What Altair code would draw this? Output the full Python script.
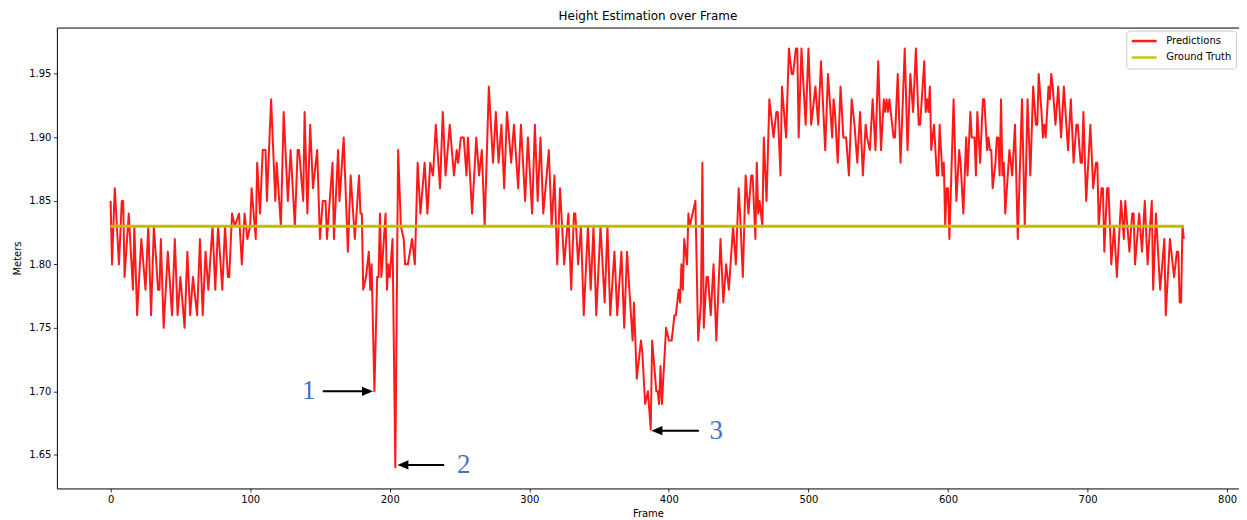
import altair as alt
import pandas as pd

# ---- data ----
pred_frames = [
    0, 1, 3, 6, 8, 9, 10, 13, 16, 17, 19, 22, 25, 27, 29, 31, 34, 35, 36, 38,
    41, 44, 46, 48, 50, 53, 55, 57, 59, 62, 64, 66, 68, 70, 73, 75, 77, 80, 82, 84,
    85, 87, 89, 92, 94, 96, 98, 100, 101, 104, 105, 107, 109, 111, 112, 115, 118, 119, 122, 124,
    127, 129, 132, 134, 135, 138, 139, 141, 143, 145, 148, 150, 152, 154, 155, 157, 159, 160, 163, 164,
    167, 170, 172, 175, 178, 179, 180, 181, 183, 185, 186, 187, 189, 191, 192, 193, 194, 197, 198, 199,
    200, 202, 204, 206, 208, 210, 211, 213, 216, 218, 220, 222, 225, 227, 229, 231, 233, 236, 238, 240,
    243, 246, 248, 249, 251, 253, 255, 256, 259, 262, 264, 266, 268, 271, 274, 276, 278, 280, 282, 284,
    287, 289, 292, 294, 297, 299, 302, 304, 306, 308, 310, 314, 316, 318, 320, 322, 325, 328, 330, 332,
    333, 335, 337, 339, 342, 344, 346, 348, 351, 354, 356, 358, 361, 363, 366, 368, 370, 374, 375, 377,
    380, 381, 383, 385, 387, 388, 391, 392, 393, 394, 395, 398, 400, 402, 404, 405, 407, 408, 409, 410,
    411, 413, 414, 415, 417, 419, 421, 423, 424, 425, 427, 428, 430, 432, 434, 437, 439, 441, 443, 446,
    448, 450, 451, 453, 455, 457, 459, 460, 462, 463, 464, 465, 467, 468, 470, 472, 474, 475, 477, 478,
    480, 481, 484, 486, 488, 489, 491, 492, 493, 495, 498, 500, 502, 505, 507, 509, 512, 514, 517, 518,
    519, 521, 523, 525, 527, 529, 531, 533, 535, 537, 539, 541, 542, 544, 546, 548, 550, 552, 554, 555,
    556, 557, 558, 561, 562, 564, 566, 569, 571, 573, 575, 577, 579, 580, 583, 584, 585, 586, 587, 588,
    590, 592, 593, 594, 596, 597, 598, 599, 600, 601, 604, 606, 608, 609, 611, 613, 614, 616, 617, 619,
    620, 621, 623, 625, 626, 628, 629, 630, 631, 632, 634, 635, 636, 637, 638, 639, 640, 641, 644, 646,
    648, 650, 653, 655, 657, 659, 661, 663, 664, 665, 667, 668, 669, 670, 672, 673, 674, 675, 677, 679,
    681, 683, 686, 688, 690, 692, 693, 695, 696, 697, 699, 702, 704, 706, 707, 708, 710, 711, 712, 714,
    715, 717, 719, 721, 724, 726, 727, 730, 732, 733, 734, 737, 739, 741, 743, 746, 747, 749, 752, 755,
    756, 759, 762, 764, 765, 766, 767, 768, 769,
]
pred_values = [
    1.85, 1.80, 1.86, 1.80, 1.85, 1.85, 1.79, 1.84, 1.78, 1.83, 1.76, 1.82, 1.78, 1.83, 1.76, 1.83, 1.78, 1.78, 1.82, 1.75,
    1.81, 1.76, 1.82, 1.76, 1.79, 1.75, 1.81, 1.76, 1.79, 1.76, 1.82, 1.76, 1.81, 1.78, 1.83, 1.78, 1.83, 1.78, 1.83, 1.79,
    1.79, 1.84, 1.83, 1.84, 1.80, 1.84, 1.82, 1.83, 1.86, 1.82, 1.88, 1.84, 1.89, 1.89, 1.85, 1.93, 1.85, 1.88, 1.83, 1.92,
    1.85, 1.89, 1.83, 1.89, 1.89, 1.85, 1.92, 1.84, 1.91, 1.86, 1.89, 1.82, 1.85, 1.85, 1.82, 1.85, 1.88, 1.82, 1.89, 1.85,
    1.90, 1.81, 1.87, 1.82, 1.87, 1.84, 1.84, 1.78, 1.79, 1.81, 1.78, 1.80, 1.70, 1.79, 1.79, 1.84, 1.79, 1.84, 1.78, 1.80,
    1.79, 1.82, 1.64, 1.89, 1.83, 1.82, 1.80, 1.80, 1.82, 1.80, 1.88, 1.84, 1.88, 1.84, 1.88, 1.87, 1.91, 1.86, 1.92, 1.87,
    1.91, 1.87, 1.89, 1.88, 1.90, 1.90, 1.87, 1.90, 1.84, 1.90, 1.87, 1.89, 1.83, 1.94, 1.88, 1.92, 1.88, 1.91, 1.86, 1.92,
    1.88, 1.91, 1.86, 1.91, 1.85, 1.90, 1.84, 1.91, 1.85, 1.90, 1.84, 1.89, 1.83, 1.87, 1.80, 1.86, 1.80, 1.84, 1.78, 1.84,
    1.84, 1.80, 1.83, 1.76, 1.83, 1.78, 1.83, 1.76, 1.83, 1.77, 1.83, 1.76, 1.81, 1.76, 1.81, 1.75, 1.81, 1.74, 1.77, 1.71,
    1.74, 1.73, 1.69, 1.70, 1.67, 1.74, 1.70, 1.70, 1.69, 1.72, 1.69, 1.75, 1.74, 1.74, 1.76, 1.76, 1.78, 1.77, 1.80, 1.78,
    1.82, 1.80, 1.84, 1.83, 1.84, 1.85, 1.74, 1.77, 1.88, 1.75, 1.79, 1.79, 1.76, 1.80, 1.74, 1.82, 1.77, 1.80, 1.78, 1.83,
    1.80, 1.86, 1.84, 1.79, 1.87, 1.84, 1.87, 1.87, 1.82, 1.88, 1.84, 1.85, 1.83, 1.90, 1.85, 1.93, 1.91, 1.90, 1.92, 1.92,
    1.87, 1.94, 1.90, 1.97, 1.95, 1.95, 1.97, 1.97, 1.90, 1.97, 1.91, 1.97, 1.91, 1.94, 1.91, 1.96, 1.89, 1.95, 1.90, 1.93,
    1.92, 1.88, 1.94, 1.90, 1.90, 1.87, 1.93, 1.91, 1.88, 1.92, 1.87, 1.91, 1.90, 1.89, 1.93, 1.89, 1.96, 1.89, 1.93, 1.92,
    1.93, 1.92, 1.93, 1.90, 1.90, 1.95, 1.88, 1.97, 1.89, 1.95, 1.92, 1.97, 1.91, 1.91, 1.96, 1.92, 1.93, 1.92, 1.94, 1.89,
    1.91, 1.87, 1.87, 1.91, 1.87, 1.88, 1.83, 1.86, 1.86, 1.82, 1.93, 1.85, 1.89, 1.88, 1.84, 1.90, 1.87, 1.92, 1.90, 1.90,
    1.87, 1.92, 1.88, 1.93, 1.93, 1.89, 1.90, 1.89, 1.89, 1.86, 1.88, 1.90, 1.90, 1.87, 1.93, 1.87, 1.88, 1.84, 1.89, 1.87,
    1.91, 1.82, 1.93, 1.83, 1.93, 1.87, 1.94, 1.91, 1.91, 1.95, 1.92, 1.90, 1.91, 1.90, 1.94, 1.93, 1.95, 1.94, 1.91, 1.94,
    1.90, 1.94, 1.89, 1.93, 1.88, 1.91, 1.91, 1.88, 1.88, 1.92, 1.85, 1.91, 1.86, 1.88, 1.88, 1.83, 1.86, 1.86, 1.81, 1.86,
    1.86, 1.80, 1.83, 1.79, 1.85, 1.82, 1.85, 1.81, 1.84, 1.84, 1.80, 1.84, 1.81, 1.85, 1.80, 1.85, 1.78, 1.84, 1.78, 1.82,
    1.76, 1.82, 1.79, 1.81, 1.81, 1.77, 1.77, 1.83, 1.82,
]
gt_frames = [0, 769]
gt_values = [1.83, 1.83]

series_names = ["Predictions", "Ground Truth"]
series_colors = ["#ff0000", "#bfbf00"]

x_ticks = [0, 100, 200, 300, 400, 500, 600, 700, 800]
y_ticks = [1.65, 1.70, 1.75, 1.80, 1.85, 1.90, 1.95]

ann_labels = ["1", "2", "3"]
ann_text_x = [142, 253, 434]
ann_text_y = [1.700, 1.642, 1.669]
arrow_start = [152, 239, 421.5]
arrow_tip = [188, 205.5, 387.5]
arrow_dir = ["right", "left", "left"]

# ---- tables ----
pred_df = pd.DataFrame({"frame": pred_frames, "value": pred_values, "series": series_names[0]})
gt_df = pd.DataFrame({"frame": gt_frames, "value": gt_values, "series": series_names[1]})
ann_df = pd.DataFrame({
    "label": ann_labels,
    "tx": ann_text_x,
    "ty": ann_text_y,
    "start": arrow_start,
    "tip": arrow_tip,
    "dir": arrow_dir,
})
ann_df["shaft_end"] = [t - 5 if d == "right" else t + 5 for t, d in zip(arrow_tip, arrow_dir)]

x_scale = alt.Scale(domain=[-38.5, 808.5], nice=False, zero=False)
y_scale = alt.Scale(domain=[1.6235, 1.9865], nice=False, zero=False)
x_axis = alt.Axis(values=x_ticks, format="d", title="Frame", labelFlush=False, titlePadding=4)
y_axis = alt.Axis(values=y_ticks, format=".2f", title="Meters", titlePadding=6)

color = alt.Color(
    "series:N",
    scale=alt.Scale(domain=series_names, range=series_colors),
    legend=alt.Legend(
        title=None,
        orient="top-right",
        offset=3,
        fillColor="white",
        strokeColor="#cccccc",
        cornerRadius=3,
        padding=4,
        symbolType="stroke",
        symbolSize=625,
        symbolStrokeWidth=2.5,
        clipHeight=13,
        labelFont="DejaVu Sans",
        labelFontSize=10,
        labelColor="black",
        rowPadding=3.5,
        labelOffset=8,
    ),
)

pred_line = alt.Chart(pred_df).mark_line(strokeWidth=2, opacity=0.9, strokeJoin="round").encode(
    x=alt.X("frame:Q", scale=x_scale, axis=x_axis),
    y=alt.Y("value:Q", scale=y_scale, axis=y_axis),
    color=color,
    order="frame:Q",
)
gt_line = alt.Chart(gt_df).mark_line(strokeWidth=3).encode(
    x=alt.X("frame:Q", scale=x_scale, axis=x_axis),
    y=alt.Y("value:Q", scale=y_scale, axis=y_axis),
    color=color,
)

arrow_shafts = alt.Chart(ann_df).mark_rule(color="black", strokeWidth=2).encode(
    x=alt.X("start:Q", scale=x_scale, axis=x_axis),
    x2="shaft_end:Q",
    y=alt.Y("ty:Q", scale=y_scale, axis=y_axis),
)
head_right = "M0,0L-1,-0.42L-1,0.42Z"
head_left = "M0,0L1,-0.42L1,0.42Z"
arrow_heads = alt.Chart(ann_df).mark_point(filled=True, color="black", opacity=1, size=484, strokeWidth=0).encode(
    x=alt.X("tip:Q", scale=x_scale, axis=x_axis),
    y=alt.Y("ty:Q", scale=y_scale, axis=y_axis),
    shape=alt.Shape("dir:N", scale=alt.Scale(domain=["right", "left"], range=[head_right, head_left]), legend=None),
)
ann_text = alt.Chart(ann_df).mark_text(
    font="Liberation Serif", fontSize=27, color="#4472c4", align="center", baseline="middle"
).encode(
    x=alt.X("tx:Q", scale=x_scale, axis=x_axis),
    y=alt.Y("ty:Q", scale=y_scale, axis=y_axis),
    text="label:N",
)

chart = (
    alt.layer(pred_line, gt_line, arrow_shafts, arrow_heads, ann_text)
    .properties(
        width=1185,
        height=462,
        autosize=alt.AutoSizeParams(type="none"),
        padding={"left": 49, "top": 19, "right": 0, "bottom": 31},
        title=alt.TitleParams(
            "Height Estimation over Frame",
            font="DejaVu Sans",
            fontSize=12,
            fontWeight="normal",
            color="black",
            offset=5,
            anchor="middle",
        ),
    )
    .configure_view(stroke="black", strokeWidth=1)
    .configure_axis(
        domain=False,
        grid=False,
        ticks=True,
        tickColor="black",
        tickSize=3.5,
        tickWidth=0.8,
        labelFont="DejaVu Sans",
        labelFontSize=10,
        labelColor="black",
        labelPadding=2.5,
        titleFont="DejaVu Sans",
        titleFontSize=10,
        titleFontWeight="normal",
        titleColor="black",
    )
)

chart.save("out.html", embed_options={"renderer": "svg", "actions": False})
